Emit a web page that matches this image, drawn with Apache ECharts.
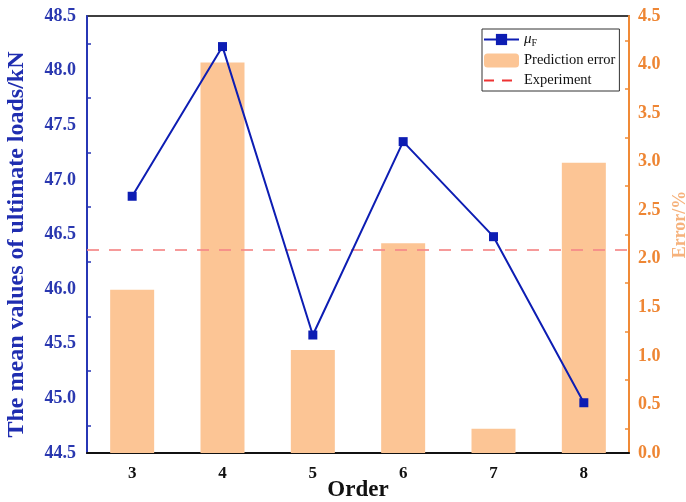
<!DOCTYPE html>
<html>
<head>
<meta charset="utf-8">
<script src="https://cdn.jsdelivr.net/npm/echarts@6/dist/echarts.min.js"></script>
<style>html,body{margin:0;padding:0;background:#fff;}#c{width:686px;height:502px;}</style>
</head>
<body>
<div id="c"></div>
<script>
var categories = ['3', '4', '5', '6', '7', '8'];
var meanLoads = [46.85, 48.22, 45.58, 47.35, 46.48, 44.96];
var predictionError = [1.68, 4.02, 1.06, 2.16, 0.25, 2.99];
var experimentLoad = 46.36;

var FONT = '"Liberation Serif", "Times New Roman", serif';
var chart = echarts.init(document.getElementById('c'), null, {renderer: 'canvas'});
chart.setOption({
  animation: false,
  backgroundColor: '#fff',
  grid: {left: 87, right: 57, top: 16, bottom: 49, containLabel: false, outerBoundsMode: 'none',
    show: true, borderColor: '#000', borderWidth: 1.5, backgroundColor: 'transparent'},
  legend: {
    orient: 'vertical', left: 482, top: 29,
    padding: [3, 4, 3, 1], borderColor: '#333', borderWidth: 1,
    itemWidth: 35, itemHeight: 14, itemGap: 5,
    textStyle: {fontFamily: FONT, fontSize: 14.5, color: '#111',
      rich: {
        mu: {fontFamily: FONT, fontSize: 15, fontStyle: 'italic', color: '#111'},
        sub: {fontFamily: FONT, fontSize: 10, color: '#111', padding: [7, 0, 0, 0]}
      }},
    formatter: function (n) { return n === 'μF' ? '{mu|μ}{sub|F}' : n; },
    data: [
      {name: 'μF'},
      {name: 'Prediction error'},
      {name: 'Experiment', itemStyle: {color: 'rgba(0,0,0,0)', borderWidth: 0, opacity: 0}}
    ]
  },
  xAxis: {
    type: 'category', data: categories, boundaryGap: true,
    name: 'Order', nameLocation: 'middle', nameGap: 26, nameMoveOverlap: false,
    nameTextStyle: {fontFamily: FONT, fontSize: 23, fontWeight: 'bold', color: '#111'},
    axisLine: {lineStyle: {color: '#111', width: 2}},
    axisTick: {inside: true, alignWithLabel: true, length: 8, lineStyle: {color: '#111', width: 1.5}},
    axisLabel: {fontFamily: FONT, fontSize: 17, fontWeight: 'bold', color: '#111', margin: 12},
    splitLine: {show: false}
  },
  yAxis: [
    {
      type: 'value', min: 44.5, max: 48.5, interval: 0.5, position: 'left',
      name: 'The mean values of ultimate loads/kN', nameLocation: 'middle', nameGap: 58, nameMoveOverlap: false,
      nameTextStyle: {fontFamily: FONT, fontSize: 24, fontWeight: 'bold', color: '#1f2db0', padding: [0, 20, 0, 0]},
      axisLine: {show: true, lineStyle: {color: '#2736b5', width: 2}},
      axisTick: {inside: true, length: 8, lineStyle: {color: '#2736b5', width: 1.5}},
      minorTick: {show: true, splitNumber: 2, length: 4, lineStyle: {color: '#2736b5', width: 1.5}},
      axisLabel: {fontFamily: FONT, fontSize: 18, fontWeight: 'bold', color: '#2a38b0', margin: 11,
        formatter: function (v) { return v.toFixed(1); }},
      splitLine: {show: false}
    },
    {
      type: 'value', min: 0, max: 4.5, interval: 0.5, position: 'right',
      name: 'Error/%', nameLocation: 'middle', nameGap: 42, nameRotate: 90, nameMoveOverlap: false,
      nameTextStyle: {fontFamily: FONT, fontSize: 18, fontWeight: 'bold', color: '#f6b27c', padding: [0, 0, 0, 20]},
      axisLine: {show: true, lineStyle: {color: '#f08a36', width: 2}},
      axisTick: {inside: true, length: 8, lineStyle: {color: '#f08a36', width: 1.5}},
      minorTick: {show: true, splitNumber: 2, length: 4, lineStyle: {color: '#f08a36', width: 1.5}},
      axisLabel: {fontFamily: FONT, fontSize: 18, fontWeight: 'bold', color: '#ee8634', margin: 9,
        formatter: function (v) { return v.toFixed(1); }},
      splitLine: {show: false}
    }
  ],
  series: [
    {
      name: 'Prediction error', type: 'bar', yAxisIndex: 1, data: predictionError,
      barWidth: 44, itemStyle: {color: '#fcc595'}, z: 1
    },
    {
      name: 'Experiment', type: 'line', yAxisIndex: 0, data: [], symbol: 'none',
      lineStyle: {color: '#ee3333', type: [10, 8], width: 2},
      markLine: {
        silent: true, symbol: ['none', 'none'], label: {show: false},
        lineStyle: {color: '#f58888', type: [12, 10], width: 2, opacity: 0.85},
        data: [{yAxis: experimentLoad}]
      }, z: 2
    },
    {
      name: 'μF', type: 'line', yAxisIndex: 0, data: meanLoads,
      symbol: 'rect', symbolSize: 9,
      lineStyle: {color: '#0d1db3', width: 2},
      itemStyle: {color: '#0d1db3'}, z: 5
    }
  ]
});
</script>
</body>
</html>
